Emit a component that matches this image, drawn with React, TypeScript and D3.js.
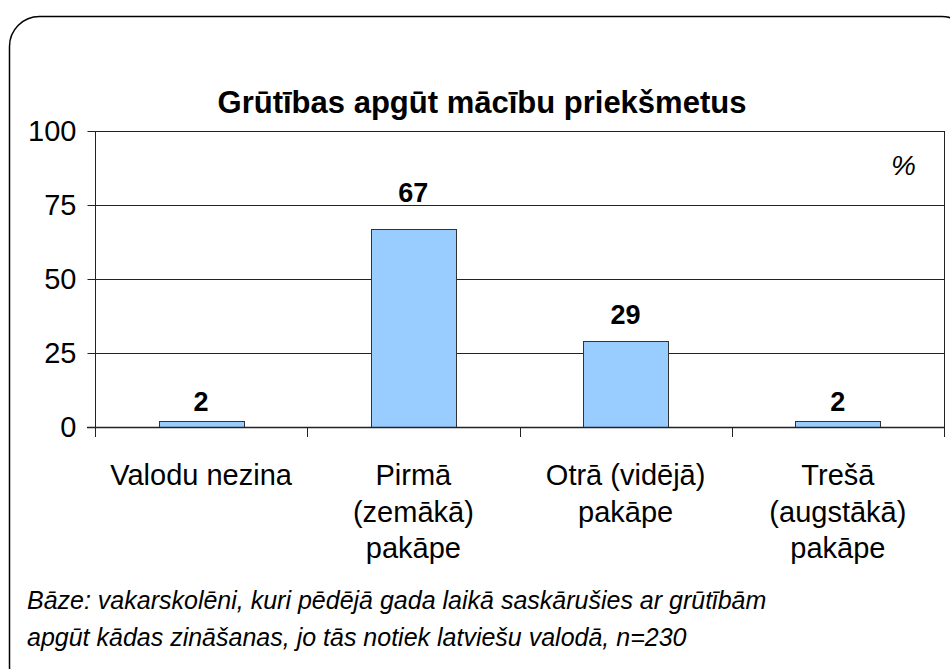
import React, { useRef, useEffect } from 'react';
import * as d3 from 'd3';

const categories = ['Valodu nezina', 'Pirmā (zemākā) pakāpe', 'Otrā (vidējā) pakāpe', 'Trešā (augstākā) pakāpe'];
const categoryLines = [
	['Valodu nezina'],
	['Pirmā', '(zemākā)', 'pakāpe'],
	['Otrā (vidējā)', 'pakāpe'],
	['Trešā', '(augstākā)', 'pakāpe'],
];
const values = [2, 67, 29, 2];
const yTicks = [0, 25, 50, 75, 100];

const title = 'Grūtības apgūt mācību priekšmetus';
const unitLabel = '%';
const footnoteLines = [
	'Bāze: vakarskolēni, kuri pēdējā gada laikā saskārušies ar grūtībām',
	'apgūt kādas zināšanas, jo tās notiek latviešu valodā, n=230',
];

const App: React.FC = () => {
	const svgRef = useRef<SVGSVGElement | null>(null);

	useEffect(() => {
		if (!svgRef.current) return;

		const width = 950;
		const height = 669;
		const plot = { left: 95, right: 944, top: 131, bottom: 427 };
		const font = '"Liberation Sans", Arial, sans-serif';

		const svg = d3.select(svgRef.current)
			.attr('width', width)
			.attr('height', height);
		svg.selectAll('*').remove();

		// Outer rounded frame (runs off the bottom/right of the picture)
		svg.append('rect')
			.attr('x', 9.5)
			.attr('y', 16.5)
			.attr('width', 962)
			.attr('height', 680)
			.attr('rx', 30)
			.attr('fill', '#fff')
			.attr('stroke', '#000')
			.attr('stroke-width', 1.5);

		const x = d3.scaleBand<string>()
			.domain(categories)
			.range([plot.left, plot.right])
			.padding(0);

		const y = d3.scaleLinear()
			.domain([0, 100])
			.range([plot.bottom, plot.top]);

		const barWidth = x.bandwidth() * 0.4;

		// Gridlines
		svg.append('g')
			.selectAll('line')
			.data(yTicks.filter(d => d > 0))
			.join('line')
			.attr('x1', plot.left)
			.attr('x2', plot.right)
			.attr('y1', d => Math.round(y(d)) + 0.5)
			.attr('y2', d => Math.round(y(d)) + 0.5)
			.attr('stroke', '#222')
			.attr('stroke-width', 1);

		// Right border of the plot area
		svg.append('line')
			.attr('x1', plot.right + 0.5)
			.attr('x2', plot.right + 0.5)
			.attr('y1', plot.top)
			.attr('y2', plot.bottom)
			.attr('stroke', '#222');

		// Bars
		svg.append('g')
			.selectAll('rect')
			.data(values)
			.join('rect')
			.attr('x', (d, i) => Math.round(x(categories[i])! + (x.bandwidth() - barWidth) / 2) + 0.5)
			.attr('y', d => Math.round(y(d)) + 0.5)
			.attr('width', Math.round(barWidth))
			.attr('height', d => Math.round(y(0)) - Math.round(y(d)))
			.attr('fill', '#99CCFF')
			.attr('stroke', '#333')
			.attr('stroke-width', 1);

		// Value labels
		svg.append('g')
			.selectAll('text')
			.data(values)
			.join('text')
			.attr('x', (d, i) => x(categories[i])! + x.bandwidth() / 2)
			.attr('y', d => y(d) - 10 - d * 0.25)
			.attr('text-anchor', 'middle')
			.style('font', `bold 27px ${font}`)
			.text(d => d);

		// Y axis
		const yAxis = svg.append('g')
			.attr('transform', `translate(${plot.left + 0.5},0)`)
			.call(d3.axisLeft(y).tickValues(yTicks).tickSize(8).tickPadding(11));
		yAxis.select('.domain').attr('stroke', '#222').attr('d', `M0,${plot.top}V${plot.bottom + 10}`);
		yAxis.selectAll('.tick line').attr('stroke', '#222');
		yAxis.selectAll('.tick text')
			.attr('fill', '#000')
			.style('font', `29px ${font}`);

		// X axis line and boundary ticks
		svg.append('line')
			.attr('x1', plot.left - 8)
			.attr('x2', plot.right + 1)
			.attr('y1', Math.round(y(0)) + 0.5)
			.attr('y2', Math.round(y(0)) + 0.5)
			.attr('stroke', '#222')
			.attr('stroke-width', 1.5);

		svg.append('g')
			.selectAll('line')
			.data(categories.map(c => x(c)!).concat([plot.right]))
			.join('line')
			.attr('x1', d => Math.round(d) + 0.5)
			.attr('x2', d => Math.round(d) + 0.5)
			.attr('y1', plot.bottom)
			.attr('y2', plot.bottom + 10)
			.attr('stroke', '#222');

		// Category labels
		const catLabel = svg.append('g')
			.selectAll('text')
			.data(categoryLines)
			.join('text')
			.attr('text-anchor', 'middle')
			.style('font', `29px ${font}`);
		catLabel.selectAll('tspan')
			.data((d, i) => d.map(line => ({ line, cx: x(categories[i])! + x.bandwidth() / 2 })))
			.join('tspan')
			.attr('x', d => d.cx)
			.attr('y', (d, j) => 485 + j * 36.5)
			.text(d => d.line);

		// Title
		svg.append('text')
			.attr('x', 482)
			.attr('y', 113)
			.attr('text-anchor', 'middle')
			.style('font', `bold 31px ${font}`)
			.text(title);

		// Unit marker
		svg.append('text')
			.attr('x', 916)
			.attr('y', 175)
			.attr('text-anchor', 'end')
			.style('font', `italic 28px ${font}`)
			.text(unitLabel);

		// Footnote
		svg.append('text')
			.style('font', `italic 25px ${font}`)
			.selectAll('tspan')
			.data(footnoteLines)
			.join('tspan')
			.attr('x', 27)
			.attr('y', (d, i) => 609 + i * 37)
			.text(d => d);

		return () => {
			svg.selectAll('*').remove();
		};
	}, []);

	return (
		<svg ref={svgRef} style={{ position: 'absolute', left: 0, top: 0, display: 'block' }} />
	);
};

export default App;
